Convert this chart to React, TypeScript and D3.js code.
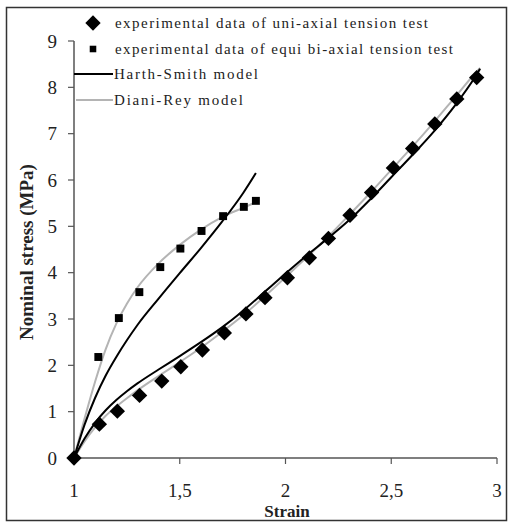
import React from "react";
import * as d3 from "d3";

// ---- data ----
const uniStrain = [1, 1.12, 1.205, 1.31, 1.415, 1.505, 1.607, 1.711, 1.813, 1.903, 2.009, 2.113, 2.203, 2.305, 2.407, 2.51, 2.601, 2.706, 2.81, 2.904];
const uniStress = [0, 0.73, 1.01, 1.35, 1.66, 1.97, 2.33, 2.7, 3.11, 3.46, 3.89, 4.32, 4.74, 5.24, 5.73, 6.26, 6.68, 7.21, 7.75, 8.21];

const biStrain = [1.115, 1.212, 1.309, 1.408, 1.503, 1.603, 1.705, 1.803, 1.86];
const biStress = [2.18, 3.02, 3.58, 4.12, 4.52, 4.9, 5.22, 5.42, 5.55];

const hsUniStrain = [1, 1.05, 1.1, 1.15, 1.2, 1.25, 1.3, 1.4, 1.5, 1.6, 1.7, 1.8, 1.9, 2.0, 2.1, 2.2, 2.3, 2.4, 2.5, 2.6, 2.7, 2.8, 2.9, 2.92];
const hsUniStress = [0, 0.42, 0.76, 1.03, 1.25, 1.44, 1.61, 1.91, 2.2, 2.5, 2.82, 3.18, 3.58, 3.98, 4.37, 4.74, 5.13, 5.58, 6.06, 6.54, 7.04, 7.6, 8.25, 8.4];

const drUniStrain = [1, 1.05, 1.1, 1.15, 1.2, 1.25, 1.3, 1.4, 1.5, 1.6, 1.7, 1.8, 1.9, 2.0, 2.1, 2.2, 2.3, 2.4, 2.5, 2.6, 2.7, 2.8, 2.9, 2.92];
const drUniStress = [0, 0.36, 0.66, 0.91, 1.11, 1.29, 1.46, 1.77, 2.07, 2.38, 2.72, 3.08, 3.48, 3.9, 4.33, 4.77, 5.24, 5.72, 6.22, 6.72, 7.24, 7.78, 8.32, 8.42];

const hsBiStrain = [1, 1.05, 1.1, 1.15, 1.2, 1.25, 1.3, 1.4, 1.5, 1.6, 1.7, 1.8, 1.86];
const hsBiStress = [0, 0.72, 1.3, 1.78, 2.18, 2.54, 2.87, 3.44, 3.99, 4.53, 5.1, 5.72, 6.15];

const drBiStrain = [1, 1.05, 1.1, 1.15, 1.2, 1.25, 1.3, 1.4, 1.5, 1.6, 1.7, 1.8, 1.86];
const drBiStress = [0, 0.85, 1.65, 2.35, 2.9, 3.33, 3.68, 4.2, 4.6, 4.93, 5.2, 5.4, 5.52];

const xTicks = [1, 1.5, 2, 2.5, 3];
const xTickLabels = ["1", "1,5", "2", "2,5", "3"];
const yTicks = [0, 1, 2, 3, 4, 5, 6, 7, 8, 9];

const legendLabels = [
  "experimental data of uni-axial tension test",
  "experimental data of equi bi-axial tension test",
  "Harth-Smith model",
  "Diani-Rey model",
];

export default function App() {
  const x = d3.scaleLinear().domain([1, 3]).range([74, 497]);
  const y = d3.scaleLinear().domain([0, 9]).range([458, 41]);
  const line = d3
    .line<[number, number]>()
    .x((d) => x(d[0]))
    .y((d) => y(d[1]))
    .curve(d3.curveMonotoneX);
  const zip = (a: number[], b: number[]) => a.map((v, i) => [v, b[i]] as [number, number]);

  const diamond = d3.symbol(d3.symbolDiamond2, 150)() as string;
  const square = d3.symbol(d3.symbolSquare2, 80)() as string;
  const serif = "'Liberation Serif', 'Times New Roman', serif";
  const gray = "#b4b4b4";

  return (
    <svg width={513} height={525} style={{ position: "absolute", left: 0, top: 0, background: "#fff" }}>
      <rect x={6.5} y={7.5} width={500} height={513} fill="#fff" stroke="#333" strokeWidth={1.5} />

      {/* axes */}
      <line x1={x(1)} x2={x(1)} y1={y(9)} y2={y(0)} stroke="#555" strokeWidth={1.5} />
      <line x1={x(1)} x2={x(3)} y1={y(0)} y2={y(0)} stroke="#555" strokeWidth={1.5} />
      {yTicks.map((t) => (
        <g key={"y" + t}>
          <line x1={x(1) - 6} x2={x(1)} y1={y(t)} y2={y(t)} stroke="#555" strokeWidth={1.2} />
          <text x={57} y={y(t) + 6.5} textAnchor="end" fontFamily={serif} fontSize={19} fill="#222">
            {t}
          </text>
        </g>
      ))}
      {xTicks.map((t, i) => (
        <g key={"x" + t}>
          <line x1={x(t)} x2={x(t)} y1={y(0)} y2={y(0) + 6} stroke="#555" strokeWidth={1.2} />
          <text x={x(t)} y={497} textAnchor="middle" fontFamily={serif} fontSize={19} fill="#222">
            {xTickLabels[i]}
          </text>
        </g>
      ))}
      <text x={287} y={517} textAnchor="middle" fontFamily={serif} fontWeight="bold" fontSize={17} fill="#222">
        Strain
      </text>
      <text
        transform={`translate(33,252) rotate(-90)`}
        textAnchor="middle"
        fontFamily={serif}
        fontWeight="bold"
        fontSize={19}
        fill="#222"
      >
        Nominal stress (MPa)
      </text>

      {/* model curves */}
      <path d={line(zip(drUniStrain, drUniStress)) || ""} fill="none" stroke={gray} strokeWidth={2} />
      <path d={line(zip(drBiStrain, drBiStress)) || ""} fill="none" stroke={gray} strokeWidth={2} />
      <path d={line(zip(hsUniStrain, hsUniStress)) || ""} fill="none" stroke="#000" strokeWidth={2} />
      <path d={line(zip(hsBiStrain, hsBiStress)) || ""} fill="none" stroke="#000" strokeWidth={2} />

      {/* experimental points */}
      {uniStrain.map((s, i) => (
        <path key={"u" + i} d={diamond} transform={`translate(${x(s)},${y(uniStress[i])})`} fill="#000" />
      ))}
      {biStrain.map((s, i) => (
        <path key={"b" + i} d={square} transform={`translate(${x(s)},${y(biStress[i])})`} fill="#000" />
      ))}

      {/* legend */}
      <path d={diamond} transform="translate(93,23)" fill="#000" />
      <path d={d3.symbol(d3.symbolSquare2, 55)() as string} transform="translate(93,49)" fill="#000" />
      <line x1={74} x2={113} y1={74} y2={74} stroke="#000" strokeWidth={2} />
      <line x1={76} x2={113} y1={100} y2={100} stroke={gray} strokeWidth={2} />
      {legendLabels.map((t, i) => {
        const ys = [28, 54, 79, 105];
        const xs = [115, 115, 114, 114];
        const lens = [313, 338, 144, 129];
        return (
          <text key={t} x={xs[i]} y={ys[i]} fontFamily={serif} fontSize={15} fill="#222" textLength={lens[i]}>
            {t}
          </text>
        );
      })}
    </svg>
  );
}
